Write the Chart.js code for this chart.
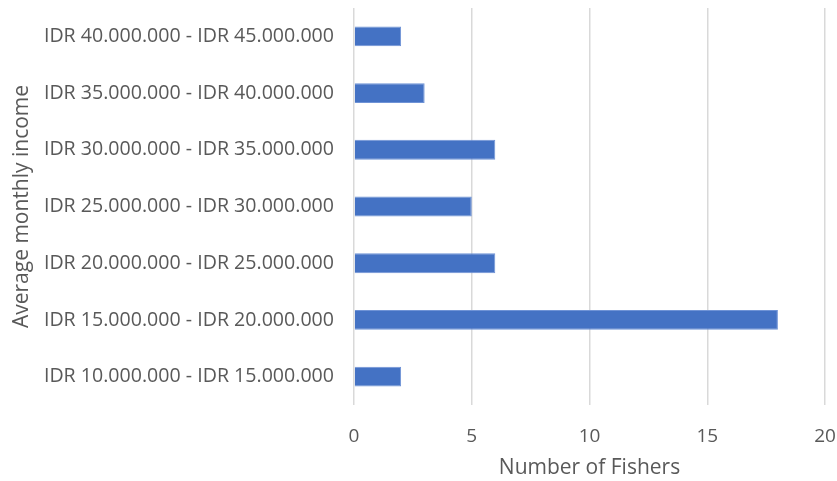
<!DOCTYPE html>
<html>
<head>
<meta charset="utf-8">
<script src="https://cdn.jsdelivr.net/npm/chart.js@4/dist/chart.umd.min.js"></script>
<style>
  html, body { margin: 0; padding: 0; background: #fff; }
  #wrap { width: 837px; height: 481px; }
</style>
</head>
<body>
<div id="wrap"><canvas id="incomeChart"></canvas></div>
<script>
/* Data */
const incomeRanges = [
  "IDR 40.000.000 - IDR 45.000.000",
  "IDR 35.000.000 - IDR 40.000.000",
  "IDR 30.000.000 - IDR 35.000.000",
  "IDR 25.000.000 - IDR 30.000.000",
  "IDR 20.000.000 - IDR 25.000.000",
  "IDR 15.000.000 - IDR 20.000.000",
  "IDR 10.000.000 - IDR 15.000.000",
];
const fisherCounts = [2, 3, 6, 5, 6, 18, 2];
const xTicks = [0, 5, 10, 15, 20];

const textGray = "#595959";
const fontFamily = "'Open Sans', 'Noto Sans', sans-serif";

/* Chart */
const ctx = document.getElementById("incomeChart").getContext("2d");

const config = {
  type: "bar",
  data: {
    labels: incomeRanges,
    datasets: [
      {
        data: fisherCounts,
        backgroundColor: "#4472c4",
        borderColor: "#6f93d6",
        borderWidth: 1,
        barPercentage: 0.35,
        categoryPercentage: 1,
      },
    ],
  },
  options: {
    indexAxis: "y",
    responsive: true,
    maintainAspectRatio: false,
    animation: false,
    layout: {
      padding: { top: 8, right: 12, left: 0, bottom: 0 },
    },
    plugins: {
      legend: { display: false },
      tooltip: { enabled: false },
    },
    scales: {
      x: {
        min: 0,
        max: 20,
        afterBuildTicks: function (scale) {
          scale.ticks = xTicks.map((v) => ({ value: v }));
        },
        // keep the plot area fixed: no extra side padding for tick labels
        afterFit: function (scale) {
          scale.height = 76;
          scale.paddingLeft = 0;
          scale.paddingRight = 0;
        },
        grid: {
          color: "#d9d9d9",
          lineWidth: 1.5,
          drawTicks: false,
        },
        border: { display: false },
        ticks: {
          color: textGray,
          padding: 20,
          font: { family: fontFamily, size: 19 },
        },
        title: {
          display: true,
          text: "Number of Fishers",
          color: textGray,
          padding: { top: 0, bottom: 0 },
          font: { family: fontFamily, size: 21 },
        },
      },
      y: {
        afterFit: function (scale) {
          scale.width = 354;
          scale.paddingTop = 0;
          scale.paddingBottom = 0;
        },
        grid: { display: false, drawTicks: false },
        border: { display: false },
        ticks: {
          color: textGray,
          padding: 20,
          font: { family: fontFamily, size: 19.6 },
        },
        title: {
          display: true,
          text: "Average monthly income",
          color: textGray,
          padding: { top: 9, bottom: 0 },
          font: { family: fontFamily, size: 21 },
        },
      },
    },
  },
};

const incomeChart = new Chart(ctx, config);
</script>
</body>
</html>
